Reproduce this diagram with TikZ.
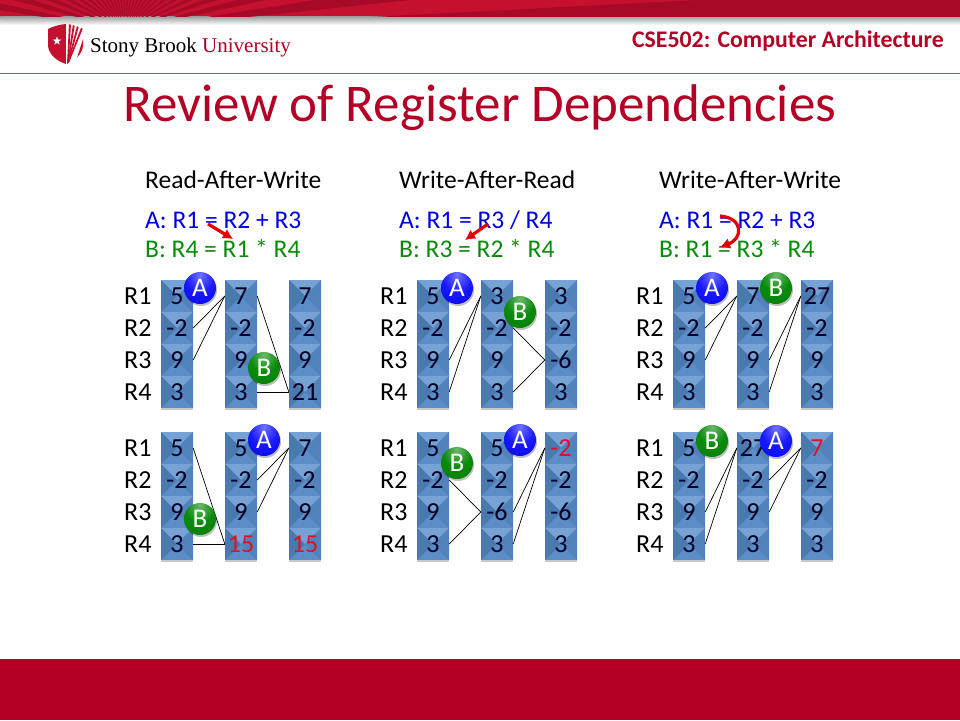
\documentclass[tikz,border=0pt]{standalone}
\usepackage{fontspec}
\setmainfont{Carlito}
\newfontfamily\logofont{Liberation Serif}
\usetikzlibrary{shapes.geometric,shadows,arrows.meta}
\definecolor{sbred}{HTML}{B30024}
\definecolor{sbrule}{HTML}{C8405F}
\definecolor{bandlight}{HTML}{C5112F}
\definecolor{banddark}{HTML}{A60A27}
\definecolor{lineblue}{HTML}{0000E0}
\definecolor{linegreen}{HTML}{0A8A0A}
\definecolor{valred}{HTML}{E0102A}
\definecolor{cellbase}{HTML}{5C8DC6}
\definecolor{celltop}{HTML}{76A2D6}
\definecolor{cellleft}{HTML}{4A79AE}
\definecolor{cellright}{HTML}{5282BA}
\pgfdeclareradialshading{ballblue}{\pgfpoint{0bp}{22bp}}{color(0bp)=(blue!55!white); color(22bp)=(blue!90!white); color(50bp)=(blue!92!black); color(75bp)=(blue!50!black)}
\pgfdeclareradialshading{ballgreen}{\pgfpoint{0bp}{22bp}}{color(0bp)=(linegreen!60!white); color(22bp)=(linegreen); color(50bp)=(linegreen!90!black); color(75bp)=(linegreen!50!black)}
\tikzset{regcell/.style = {minimum size=32pt, inner sep=0pt, font=\fontsize{26}{26}\selectfont,
  text=black!85!blue, drop shadow={shadow xshift=0pt, shadow yshift=-2pt, opacity=0.22, fill=black},
  path picture={
    \fill[cellbase] (path picture bounding box.south west) rectangle (path picture bounding box.north east);
    \fill[celltop] (path picture bounding box.north west) -- (path picture bounding box.north east) -- (path picture bounding box.center) -- cycle;
    \fill[cellleft] (path picture bounding box.north west) -- (path picture bounding box.south west) -- (path picture bounding box.center) -- cycle;
    \fill[cellright] (path picture bounding box.north east) -- (path picture bounding box.south east) -- (path picture bounding box.center) -- cycle;
  }}}
\tikzset{reglabel/.style = {anchor=west, inner sep=0pt, font=\fontsize{26}{26}\selectfont}}
\tikzset{head/.style = {anchor=west, inner sep=0pt, font=\fontsize{25.5}{25.5}\selectfont}}
\tikzset{insta/.style = {head, text=lineblue}}
\tikzset{instb/.style = {head, text=linegreen}}
\tikzset{ball/.style = {circle, minimum size=32pt, inner sep=0pt, text=white, font=\fontsize{27}{27}\selectfont,
  drop shadow={shadow xshift=1pt, shadow yshift=-2pt, opacity=0.25, fill=black}}}
\tikzset{balla/.style = {ball, shading=ballblue}}
\tikzset{ballb/.style = {ball, shading=ballgreen}}
\tikzset{dep/.style = {line width=0.7pt, black}}
\tikzset{hazard/.style = {-{Latex[length=10pt,width=11pt]}, line width=3.2pt, red!90!black}}
\newcommand{\regcol}[4]{%
  \foreach \val [count=\i] in {#4}
    \node [regcell] (#1\i) at ({#2},{#3+32*(\i-1)}) {\val};}
\newcommand{\reglabels}[3]{%
  \foreach \i in {1,...,4}
    \node [reglabel] (#1\i) at ({#2},{#3+32*(\i-1)}) {R\i};}
\newcommand{\redval}[1]{\textcolor{valred}{#1}}

\begin{document}
\begin{tikzpicture}[x=1pt, y=-1pt]
  \useasboundingbox (0,0) rectangle (960,720);

  % slide frame
  \shade[top color=black!40, bottom color=white] (0,16) rectangle (960,25);
  \begin{scope}
    \clip (0,0) rectangle (960,16);
    \fill[bandlight] (0,0) rectangle (960,16);
    \foreach \a in {0,6,...,174}
      \fill[banddark] (125,30) -- ({125+1200*cos(\a)},{30-1200*sin(\a)}) -- ({125+1200*cos(\a+3)},{30-1200*sin(\a+3)}) -- cycle;
  \end{scope}
  \fill[sbred] (0,659) rectangle (960,720);
  \draw[sbrule, line width=1pt] (0,73) -- (960,73);

  % logo
  \begin{scope}
    \clip (48,29) .. controls (54,26) and (60,24.5) .. (66,24) .. controls (72,24.5) and (78,26) .. (83,29)
      -- (83,46) .. controls (82,55) and (74,61) .. (66,64) .. controls (57,61) and (49,55) .. (48,46) -- cycle;
    \fill[bandlight] (48,24) rectangle (65.5,64);
    \foreach \x/\w in {69/2, 73/2, 77.5/2, 82.5/2.2}
      \fill[bandlight] (67,64) -- (\x,24) -- (\x+\w,24) -- (68.5,64) -- cycle;
    \fill[bandlight] (69,64) -- (75,64) -- (84,36) -- (84,64) -- cycle;
  \end{scope}
  \node [star, star points=5, star point ratio=2.4, fill=white, inner sep=0pt, minimum size=9pt] (logostar) at (57,41) {};
  \node [anchor=base west, inner sep=0pt, font=\logofont\fontsize{21}{21}\selectfont] (logotext) at (90,52)
    {Stony Brook \textcolor{sbred}{University}};

  \node [anchor=east, inner sep=0pt, text=sbred, font=\bfseries\fontsize{23.8}{23.8}\selectfont] (course) at (944,41.5) {CSE502: Computer Architecture};
  \node [inner sep=0pt, text=sbred, font=\fontsize{53}{53}\selectfont] (title) at (480,108) {Review of Register Dependencies};

  % headings and instructions
  \node [head] (rawhead) at (145,180) {Read-After-Write};
  \node [insta] (rawa) at (145,220) {A: R1 = R2 + R3};
  \node [instb] (rawb) at (145,249) {B: R4 = R1 * R4};
  \node [head] (warhead) at (399,180) {Write-After-Read};
  \node [insta] (wara) at (399,220) {A: R1 = R3 / R4};
  \node [instb] (warb) at (399,249) {B: R3 = R2 * R4};
  \node [head] (wawhead) at (659,180) {Write-After-Write};
  \node [insta] (wawa) at (659,220) {A: R1 = R2 + R3};
  \node [instb] (wawb) at (659,249) {B: R1 = R3 * R4};

  % registers
  \reglabels{rawtr}{124}{296}
  \reglabels{rawbr}{124}{448}
  \reglabels{wartr}{380}{296}
  \reglabels{warbr}{380}{448}
  \reglabels{wawtr}{636}{296}
  \reglabels{wawbr}{636}{448}

  \regcol{rawta}{177}{296}{5,-2,9,3}
  \regcol{rawtb}{241}{296}{7,-2,9,3}
  \regcol{rawtc}{305}{296}{7,-2,9,21}
  \regcol{rawba}{177}{448}{5,-2,9,3}
  \regcol{rawbb}{241}{448}{5,-2,9,\redval{15}}
  \regcol{rawbc}{305}{448}{7,-2,9,\redval{15}}

  \regcol{warta}{433}{296}{5,-2,9,3}
  \regcol{wartb}{497}{296}{3,-2,9,3}
  \regcol{wartc}{561}{296}{3,-2,-6,3}
  \regcol{warba}{433}{448}{5,-2,9,3}
  \regcol{warbb}{497}{448}{5,-2,-6,3}
  \regcol{warbc}{561}{448}{\redval{-2},-2,-6,3}

  \regcol{wawta}{689}{296}{5,-2,9,3}
  \regcol{wawtb}{753}{296}{7,-2,9,3}
  \regcol{wawtc}{817}{296}{27,-2,9,3}
  \regcol{wawba}{689}{448}{5,-2,9,3}
  \regcol{wawbb}{753}{448}{27,-2,9,3}
  \regcol{wawbc}{817}{448}{\redval{7},-2,9,3}

  % dependencies between registers
  \path[dep] (rawta2.east) edge (rawtb1.west);
  \path[dep] (rawta3.east) edge (rawtb1.west);
  \path[dep] (rawtb1.east) edge (rawtc4.west);
  \path[dep] (rawtb4.east) edge (rawtc4.west);
  \path[dep] (rawba1.east) edge (rawbb4.west);
  \path[dep] (rawba4.east) edge (rawbb4.west);
  \path[dep] (rawbb2.east) edge (rawbc1.west);
  \path[dep] (rawbb3.east) edge (rawbc1.west);

  \path[dep] (warta3.east) edge (wartb1.west);
  \path[dep] (warta4.east) edge (wartb1.west);
  \path[dep] (wartb2.east) edge (wartc3.west);
  \path[dep] (wartb4.east) edge (wartc3.west);
  \path[dep] (warba2.east) edge (warbb3.west);
  \path[dep] (warba4.east) edge (warbb3.west);
  \path[dep] (warbb3.east) edge (warbc1.west);
  \path[dep] (warbb4.east) edge (warbc1.west);

  \path[dep] (wawta2.east) edge (wawtb1.west);
  \path[dep] (wawta3.east) edge (wawtb1.west);
  \path[dep] (wawtb3.east) edge (wawtc1.west);
  \path[dep] (wawtb4.east) edge (wawtc1.west);
  \path[dep] (wawba3.east) edge (wawbb1.west);
  \path[dep] (wawba4.east) edge (wawbb1.west);
  \path[dep] (wawbb2.east) edge (wawbc1.west);
  \path[dep] (wawbb3.east) edge (wawbc1.west);

  % instruction balls
  \node [balla] (rawta) at (200,288) {A};
  \node [ballb] (rawtb) at (264,368) {B};
  \node [balla] (rawba) at (264,440) {A};
  \node [ballb] (rawbb) at (200,519) {B};
  \node [balla] (warta) at (457,288) {A};
  \node [ballb] (wartb) at (520,312) {B};
  \node [balla] (warba) at (520,440) {A};
  \node [ballb] (warbb) at (457,463) {B};
  \node [balla] (wawta) at (712,288) {A};
  \node [ballb] (wawtb) at (776,288) {B};
  \node [ballb] (wawbb) at (712,441) {B};
  \node [balla] (wawba) at (776,441) {A};

  % hazard arrows
  \coordinate (rawfrom) at (208,224);
  \coordinate (rawto) at (233,239);
  \coordinate (warfrom) at (488,224);
  \coordinate (warto) at (465,240);
  \coordinate (wawfrom) at (720,216);
  \coordinate (wawto) at (720,247);
  \path[hazard] (rawfrom) edge (rawto);
  \path[hazard] (warfrom) edge (warto);
  \path[hazard] (wawfrom) edge [out=-5, in=20, looseness=2] (wawto);
\end{tikzpicture}
\end{document}
